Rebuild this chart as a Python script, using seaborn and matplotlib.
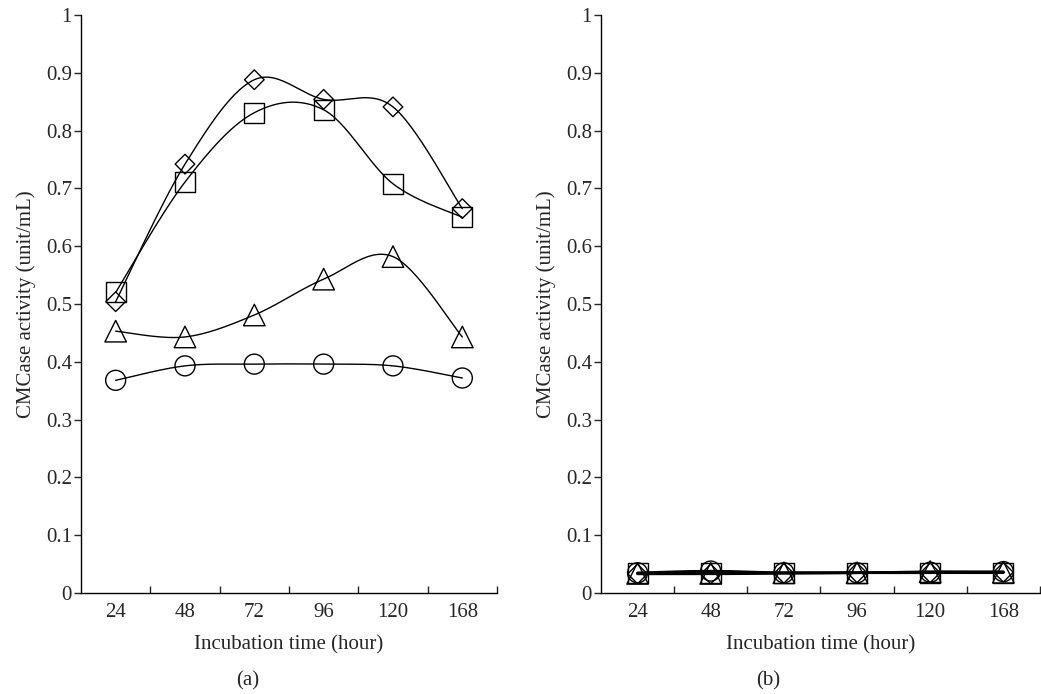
import numpy as np
import pandas as pd
import matplotlib
matplotlib.use('Agg')
import matplotlib.pyplot as plt
import seaborn as sns

# Incubation times (categorical, evenly spaced)
hours = ['24', '48', '72', '96', '120', '168']

# Panel (a) CMCase activity (unit/mL)
a_diamond = [0.504, 0.742, 0.888, 0.854, 0.841, 0.665]
a_square = [0.520, 0.711, 0.831, 0.836, 0.708, 0.650]
a_triangle = [0.453, 0.443, 0.481, 0.543, 0.582, 0.443]
a_circle = [0.368, 0.393, 0.396, 0.396, 0.393, 0.372]

# Panel (b) CMCase activity (unit/mL)
b_diamond = [0.033, 0.033, 0.034, 0.035, 0.035, 0.036]
b_square = [0.034, 0.035, 0.035, 0.035, 0.035, 0.035]
b_triangle = [0.034, 0.034, 0.035, 0.035, 0.037, 0.036]
b_circle = [0.035, 0.038, 0.035, 0.035, 0.036, 0.037]

yticks = [0, 0.1, 0.2, 0.3, 0.4, 0.5, 0.6, 0.7, 0.8, 0.9, 1]
ytick_labels = ['0', '0.1', '0.2', '0.3', '0.4', '0.5', '0.6', '0.7', '0.8', '0.9', '1']


def smooth(y, n=30):
    # Excel-like smoothed line: cubic Bezier segments with Catmull-Rom tangents
    x = np.arange(len(y), dtype=float)
    y = np.asarray(y, dtype=float)
    xs, ys = [], []
    for i in range(len(y) - 1):
        i0, i3 = max(i - 1, 0), min(i + 2, len(y) - 1)
        p0 = np.array([x[i], y[i]])
        p3 = np.array([x[i + 1], y[i + 1]])
        p1 = p0 + (p3 - np.array([x[i0], y[i0]])) / 6
        p2 = p3 - (np.array([x[i3], y[i3]]) - p0) / 6
        t = np.linspace(0, 1, n)[:, None]
        pts = ((1 - t) ** 3) * p0 + 3 * ((1 - t) ** 2) * t * p1 + 3 * (1 - t) * t ** 2 * p2 + t ** 3 * p3
        xs.extend(pts[:, 0])
        ys.extend(pts[:, 1])
    return pd.DataFrame({'x': xs, 'y': ys})


sns.set_style('ticks')
plt.rcParams['font.family'] = ['Liberation Serif', 'DejaVu Serif']
fs = 15

fig = plt.figure(figsize=(10.41, 6.94), dpi=100)
ax_a = fig.add_axes([0.0778, 0.1455, 0.3996, 0.8329])
ax_b = fig.add_axes([0.5773, 0.1455, 0.4217, 0.8329])

markers = [('D', 100), ('s', 207), ('^', 240), ('o', 207)]
panels = [(ax_a, [a_diamond, a_square, a_triangle, a_circle], 1.0),
          (ax_b, [b_diamond, b_square, b_triangle, b_circle], 1.8)]

for ax, series, lw in panels:
    for vals, (m, s) in zip(series, markers):
        curve = smooth(vals)
        sns.lineplot(data=curve, x='x', y='y', ax=ax, color='black', linewidth=lw,
                     sort=False, estimator=None)
        sns.scatterplot(x=np.arange(len(hours)), y=vals, ax=ax, marker=m, s=s,
                        facecolor='none', edgecolor='black', linewidth=1.0, zorder=3)

    ax.set_xlim(-0.5, 5.5)
    ax.set_ylim(0, 1)
    ax.set_yticks(yticks)
    ax.set_yticklabels(ytick_labels, fontsize=fs)
    ax.set_xticks(np.arange(len(hours)))
    ax.set_xticklabels(hours, fontsize=fs)
    ax.set_xticks(np.arange(len(hours)) + 0.5, minor=True)
    ax.tick_params(axis='x', which='major', length=0, pad=7)
    ax.tick_params(axis='x', which='minor', direction='in', length=5, width=1)
    ax.tick_params(axis='y', direction='out', length=5, width=1, pad=1.5)
    ax.set_xlabel('Incubation time (hour)', fontsize=fs, labelpad=10)
    ax.set_ylabel('CMCase activity (unit/mL)', fontsize=fs, labelpad=7)
    for sp in ['top', 'right']:
        ax.spines[sp].set_visible(False)
    for sp in ['left', 'bottom']:
        ax.spines[sp].set_linewidth(1.0)
        ax.spines[sp].set_color('black')

fig.text(248 / 1041, 1 - 681 / 694, '(a)', ha='center', va='center', fontsize=fs)
fig.text(768 / 1041, 1 - 681 / 694, '(b)', ha='center', va='center', fontsize=fs)

fig.savefig('out.png', dpi=100)
